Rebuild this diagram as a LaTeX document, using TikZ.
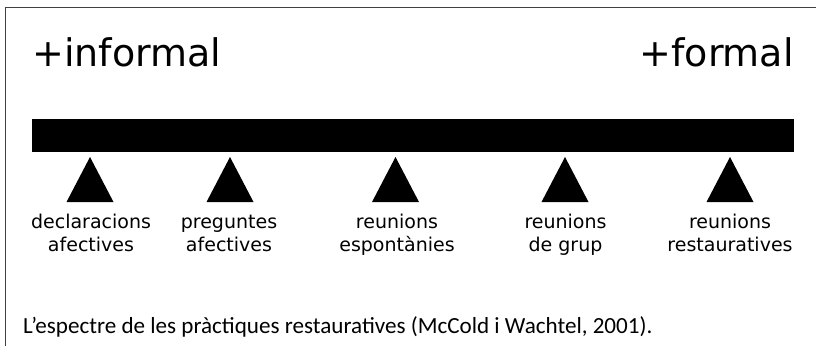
\documentclass[tikz,border=0pt]{standalone}
\usepackage{fontspec}
\setmainfont{DejaVu Sans}
\newfontfamily\capfont{Carlito}
\tikzset{
  marker/.style={fill=black},
  lbl/.style={align=center, anchor=base, inner sep=0pt, font=\fontsize{19}{23.5}\selectfont},
  bigtxt/.style={inner sep=0pt, font=\fontsize{38}{44}\selectfont}
}

\begin{document}
\begin{tikzpicture}[x=1pt,y=1pt]
\useasboundingbox (0,0) rectangle (816,346);
% frame
\draw[black!75, line width=1.2pt] (5.5,0) -- (5.5,338.5) -- (816,338.5);
\node[bigtxt, anchor=base west] (informal) at (32,279) {+informal};
\node[bigtxt, anchor=base east] (formal) at (794,279) {+formal};
% the spectrum
\fill[black] (32,194) rectangle (794,227);
\fill[marker] (66.5,144) -- (90,189) -- (113.5,144) -- cycle;
\fill[marker] (206.5,144) -- (230,189) -- (253.5,144) -- cycle;
\fill[marker] (372,144) -- (395.5,189) -- (419,144) -- cycle;
\fill[marker] (541.5,144) -- (565,189) -- (588.5,144) -- cycle;
\fill[marker] (706.5,144) -- (730,189) -- (753.5,144) -- cycle;
% labels (anchor sits on the second line)
\node[lbl] (declaracions) at (91,94.5) {declaracions\\afectives};
\node[lbl] (preguntes) at (229,94.5) {preguntes\\afectives};
\node[lbl] (espontanies) at (397,94.5) {reunions\\espontànies};
\node[lbl] (grup) at (565.5,94.5) {reunions\\de grup};
\node[lbl] (restauratives) at (730,94.5) {reunions\\restauratives};
% caption
\node[inner sep=0pt, anchor=base west, font=\capfont\fontsize{23.1}{27}\selectfont] (caption) at (23,13) {L’espectre de les pràctiques restauratives (McCold i Wachtel, 2001).};
\end{tikzpicture}
\end{document}
